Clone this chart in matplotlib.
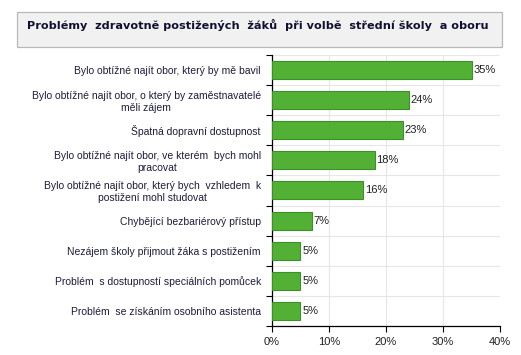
import matplotlib.pyplot as plt
from matplotlib.patches import Rectangle

title = "Problémy  zdravotně postižených  žáků  při volbě  střední školy  a oboru"
categories = [
    "Bylo obtížné najít obor, který by mě bavil",
    "Bylo obtížné najít obor, o který by zaměstnavatelé\nměli zájem",
    "Špatná dopravní dostupnost",
    "Bylo obtížné najít obor, ve kterém  bych mohl\npracovat",
    "Bylo obtížné najít obor, který bych  vzhledem  k\npostižení mohl studovat",
    "Chybějící bezbariérový přístup",
    "Nezájem školy přijmout žáka s postižením",
    "Problém  s dostupností speciálních pomůcek",
    "Problém  se získáním osobního asistenta",
]
values = [35, 24, 23, 18, 16, 7, 5, 5, 5]
xticks = [0, 10, 20, 30, 40]

text_color = "#1c1c3c"
bar_color = "#52b135"
edge_color = "#3d8f28"
grid_color = "#e6e6e6"
lab_font = "Liberation Sans"

fig = plt.figure(figsize=(5.21, 3.55), dpi=100)
ax = fig.add_axes([0.522, 0.082, 0.438, 0.763])

n = len(categories)
pos = list(range(n))
ax.barh(pos, values, height=0.6, color=bar_color, edgecolor=edge_color,
        linewidth=0.8, zorder=3)
for p, v in zip(pos, values):
    ax.text(v + 0.3, p, f"{v}%", va="center", ha="left", fontsize=8,
            color="#202020", family=lab_font)

ax.set_xlim(0, 40)
ax.set_ylim(n - 0.5, -0.5)
ax.set_xticks(xticks)
ax.set_xticklabels([f"{t}%" for t in xticks], fontsize=8, color="#202020",
                   family=lab_font)
ax.set_yticks([p - 0.5 for p in pos] + [n - 0.5], minor=False)
ax.set_yticklabels([])
ax.set_yticks(pos, minor=True)
ax.set_yticklabels(categories, minor=True, fontsize=7.5, color=text_color,
                   ha="right", multialignment="center", family=lab_font)
ax.tick_params(axis="y", which="minor", length=0, pad=8)
ax.tick_params(axis="y", which="major", length=4, direction="out")
ax.tick_params(axis="x", length=4, direction="out", pad=4)
ax.grid(True, which="major", color=grid_color, linewidth=0.8, zorder=0)
for s in ["top", "right"]:
    ax.spines[s].set_visible(False)
ax.spines["left"].set_linewidth(0.9)
ax.spines["bottom"].set_linewidth(0.9)

# title box
fig.patches.append(Rectangle((17 / 521, 1 - 47 / 355), 485 / 521, 35 / 355,
                             transform=fig.transFigure, facecolor="#f1f1f1",
                             edgecolor="#b8b8b8", linewidth=0.9))
fig.text(27 / 521, 1 - 25 / 355, title, fontsize=8.1, fontweight="bold",
         color="#101030", va="center", ha="left")

fig.savefig("out.png", dpi=100)
